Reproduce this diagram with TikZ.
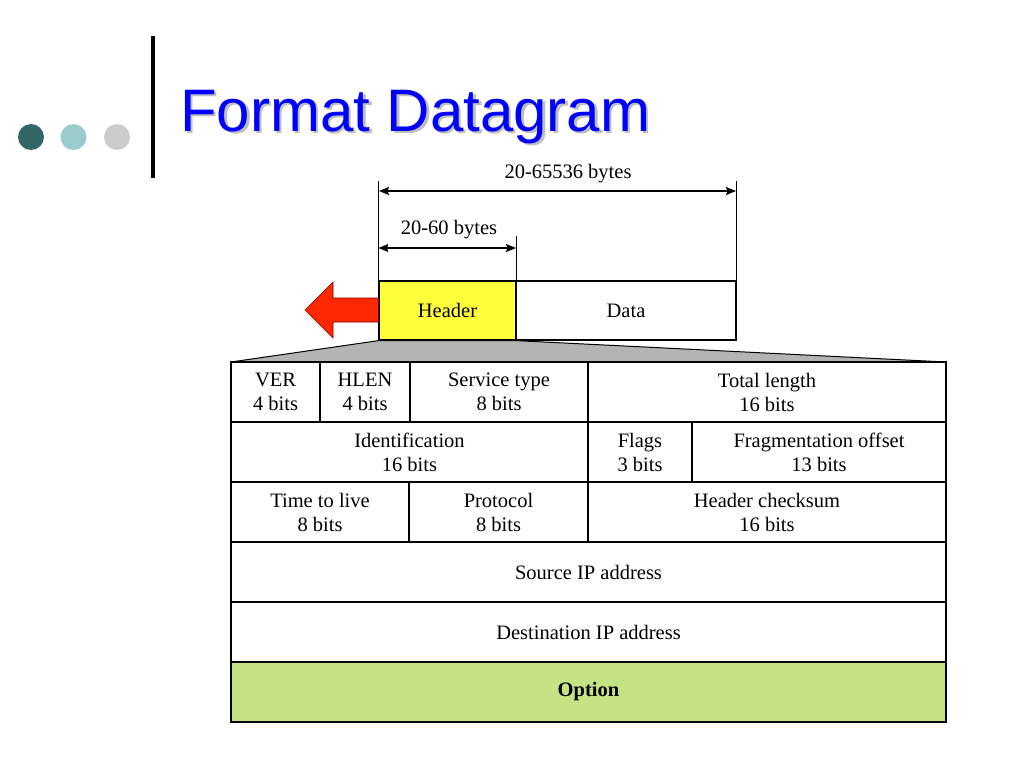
\documentclass[tikz,border=0pt]{standalone}
\usepackage{fontspec}
\setmainfont{Liberation Serif}
\newfontfamily\titlefont{Liberation Sans}
\usepackage{tikz}
\usetikzlibrary{arrows.meta}
\definecolor{dotdark}{RGB}{51,102,102}
\definecolor{dotmid}{RGB}{153,204,204}
\definecolor{dotlight}{RGB}{204,204,204}
\definecolor{headeryellow}{RGB}{255,255,60}
\definecolor{optiongreen}{RGB}{195,227,132}
\definecolor{arrowred}{RGB}{255,40,0}
\definecolor{funnelgray}{RGB}{180,180,180}
\tikzstyle{cell} = [draw=black, line width=1.3pt, rectangle, fill=white, inner sep=0pt, minimum height=60pt, align=center, font=\fontsize{20.5}{24}\selectfont]
\tikzstyle{dim} = [line width=1.3pt, {Stealth[length=10pt,width=8pt,inset=1.5pt]}-{Stealth[length=10pt,width=8pt,inset=1.5pt]}]
\tikzstyle{tick} = [line width=1.1pt]
\tikzstyle{lbl} = [font=\fontsize{20.5}{24}\selectfont, inner sep=0pt]

\begin{document}
\begin{tikzpicture}[x=1pt, y=-1pt]
	\useasboundingbox (0,0) rectangle (1024,768);
	% title bar
	\fill[dotdark] (31,137) circle (13);
	\fill[dotmid] (73.5,137) circle (13);
	\fill[dotlight] (117,137) circle (13);
	\draw[line width=4pt] (153,36) -- (153,178);
	\node[anchor=base west, inner sep=0pt, text=gray!50, font=\titlefont\fontsize{60}{66}\selectfont] (titleshadow) at (182.5,133.5) {Format Datagram};
	\node[anchor=base west, inner sep=0pt, text=blue, font=\titlefont\fontsize{60}{66}\selectfont] (title) at (180,131) {Format Datagram};

	% datagram = header + data
	\node[cell, fill=headeryellow, minimum width=137pt, minimum height=59pt] (header) at (447.5,310.5) {Header};
	\node[cell, minimum width=220pt, minimum height=59pt] (data) at (626,310.5) {Data};

	% length markers
	\coordinate (totalL) at (379,191);
	\coordinate (totalR) at (736,191);
	\coordinate (hdrR) at (516,248);
	\draw[tick] (header.north west) -- ++(0,-99);
	\draw[tick] (data.north east) -- ++(0,-99);
	\draw[tick] (header.north east) -- ++(0,-44);
	\draw[dim] (totalL) -- (totalR);
	\draw[dim] (header.north west |- hdrR) -- (hdrR);
	\node[lbl] (totallbl) at (568,174) {20-65536 bytes};
	\node[lbl] (hdrlbl) at (449,230) {20-60 bytes};

	% red arrow
	\draw[fill=arrowred, draw=red!50!black, line width=0.6pt]
		(305,310) -- (333,282) -- (333,298) -- (header.west |- 0,298) -- (header.west |- 0,322)
		-- (333,322) -- (333,338) -- cycle;

	% expansion funnel
	\draw[fill=funnelgray, line width=1pt] (header.south west) -- (header.south east) -- (946,362) -- (231,362) -- cycle;

	% header fields
	\node[cell, minimum width=89pt] (ver) at (275.5,392) {VER\\4 bits};
	\node[cell, minimum width=90pt] (hlen) at (365,392) {HLEN\\4 bits};
	\node[cell, minimum width=178pt] (service) at (499,392) {Service type\\8 bits};
	\node[cell, minimum width=358pt] (total) at (767,392) {Total length\\16 bits};

	\node[cell, minimum width=357pt] (ident) at (409.5,452) {Identification\\16 bits};
	\node[cell, minimum width=104pt] (flags) at (640,452) {Flags\\3 bits};
	\node[cell, minimum width=254pt] (frag) at (819,452) {Fragmentation offset\\13 bits};

	\node[cell, minimum width=178pt] (ttl) at (320,512) {Time to live\\8 bits};
	\node[cell, minimum width=179pt] (proto) at (498.5,512) {Protocol\\8 bits};
	\node[cell, minimum width=358pt] (checksum) at (767,512) {Header checksum\\16 bits};

	\node[cell, minimum width=715pt] (source) at (588.5,572) {Source IP address};
	\node[cell, minimum width=715pt] (dest) at (588.5,632) {Destination IP address};
	\node[cell, minimum width=715pt, fill=optiongreen, font=\fontsize{20.5}{24}\selectfont\bfseries] (option) at (588.5,692) {Option};
\end{tikzpicture}
\end{document}
